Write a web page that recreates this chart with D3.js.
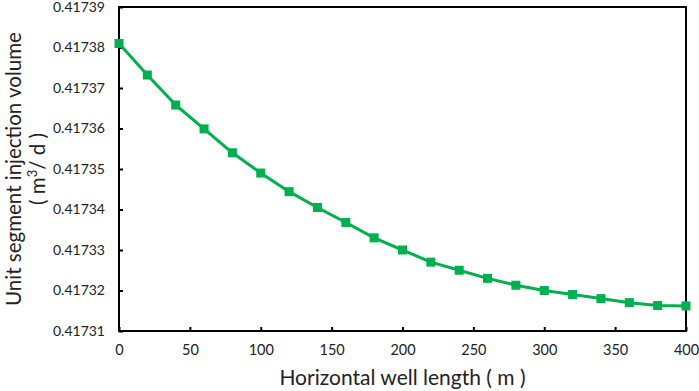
<!DOCTYPE html>
<html>
<head>
<meta charset="utf-8">
<script src="https://cdn.jsdelivr.net/npm/d3@7"></script>
<style>
  body { margin: 0; background: #fff; }
  text { font-family: Lato, "Open Sans", sans-serif; fill: #222; }
</style>
</head>
<body>
<script>
// data
const lengths = [0, 20, 40, 60, 80, 100, 120, 140, 160, 180, 200, 220, 240, 260, 280, 300, 320, 340, 360, 380, 400]
const volumes = [0.417381, 0.4173732, 0.4173658, 0.4173599, 0.417354, 0.417349, 0.4173444, 0.4173405, 0.4173368,
  0.417333, 0.41733, 0.417327, 0.417325, 0.417323, 0.4173213, 0.41732, 0.417319, 0.417318, 0.417317, 0.4173163, 0.4173162]
const xTicks = [0, 50, 100, 150, 200, 250, 300, 350, 400]
const yTicks = [0.41731, 0.41732, 0.41733, 0.41734, 0.41735, 0.41736, 0.41737, 0.41738, 0.41739]

const width = 699, height = 391
const margin = {left: 119, right: 13, top: 7, bottom: 60}
const green = '#00b04f'

const svg = d3.select('body').append('svg')
  .attr('width', width)
  .attr('height', height)

const x = d3.scaleLinear()
  .domain([0, 400])
  .range([margin.left, width - margin.right])

const y = d3.scaleLinear()
  .domain([0.41731, 0.41739])
  .range([height - margin.bottom, margin.top])

// frame
svg.append('rect')
  .attr('x', x(0))
  .attr('y', y(0.41739))
  .attr('width', x(400) - x(0))
  .attr('height', y(0.41731) - y(0.41739))
  .attr('fill', 'none')
  .attr('stroke', '#000')
  .attr('stroke-width', 2)

const xAxis = g => g
  .attr('transform', `translate(0,${y(0.41731)})`)
  .call(d3.axisBottom(x).tickValues(xTicks).tickSize(-4).tickPadding(14).tickFormat(d3.format('d')))
  .call(g => g.select('.domain').remove())
  .call(g => g.selectAll('line').attr('stroke-width', 2))
  .call(g => g.selectAll('text').attr('font-size', 14.5).style('font-family', 'Lato, sans-serif').attr('fill', '#222'))

const yAxis = g => g
  .attr('transform', `translate(${x(0)},0)`)
  .call(d3.axisLeft(y).tickValues(yTicks).tickSize(-4).tickPadding(14).tickFormat(d3.format('.5f')))
  .call(g => g.select('.domain').remove())
  .call(g => g.selectAll('line').attr('stroke-width', 2))
  .call(g => g.selectAll('text').attr('font-size', 14).style('font-family', 'Lato, sans-serif').attr('fill', '#222'))

svg.append('g').attr('class', 'axis').call(xAxis)
svg.append('g').attr('class', 'axis').call(yAxis)

const points = lengths.map((l, i) => [l, volumes[i]])

svg.append('path')
  .datum(points)
  .attr('fill', 'none')
  .attr('stroke', green)
  .attr('stroke-width', 3)
  .attr('stroke-linejoin', 'round')
  .attr('d', d3.line().x(d => x(d[0])).y(d => y(d[1])))

svg.append('g')
  .selectAll('rect')
  .data(points)
  .join('rect')
  .attr('x', d => x(d[0]) - 4.5)
  .attr('y', d => y(d[1]) - 4.5)
  .attr('width', 9)
  .attr('height', 9)
  .attr('fill', green)

// axis titles
svg.append('text')
  .attr('x', (x(0) + x(400)) / 2)
  .attr('y', 385)
  .attr('text-anchor', 'middle')
  .attr('font-size', 21)
  .text('Horizontal well length ( m )')

const yTitle = svg.append('g')
  .attr('transform', `translate(0,${(y(0.41731) + y(0.41739)) / 2}) rotate(-90)`)

yTitle.append('text')
  .attr('x', 0)
  .attr('y', 21)
  .attr('text-anchor', 'middle')
  .attr('font-size', 20.5)
  .text('Unit segment injection volume')

const unit = yTitle.append('text')
  .attr('x', 0)
  .attr('y', 45)
  .attr('text-anchor', 'middle')
  .attr('font-size', 20.5)
unit.append('tspan').text('( m')
unit.append('tspan').attr('font-size', 13).attr('dy', -8).text('3')
unit.append('tspan').attr('dy', 8).text('/ d )')
</script>
</body>
</html>
